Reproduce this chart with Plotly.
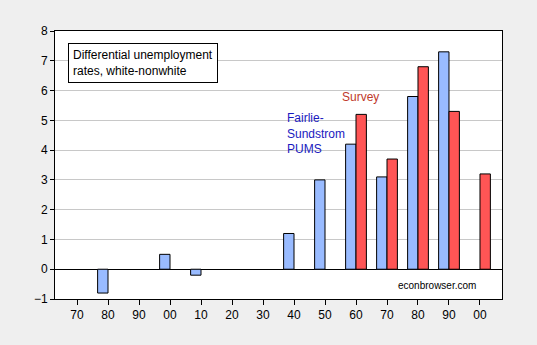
import plotly.graph_objects as go

# Decades 1870-2000, labelled by two-digit year
decade_labels = ["70", "80", "90", "00", "10", "20", "30", "40", "50", "60", "70", "80", "90", "00"]
positions = list(range(len(decade_labels)))

# Differential unemployment rates, white minus nonwhite (percentage points)
pums_values = [None, -0.8, None, 0.5, -0.2, None, None, 1.2, 3.0, 4.2, 3.1, 5.8, 7.3, None]
survey_values = [None, None, None, None, None, None, None, None, None, 5.2, 3.7, 6.8, 5.3, 3.2]

font_family = "Liberation Sans, Arial, sans-serif"

fig = go.Figure()
fig.add_trace(go.Bar(
    x=positions, y=pums_values, name="Fairlie-Sundstrom PUMS",
    marker=dict(color="#99bbff", line=dict(color="black", width=1)),
))
fig.add_trace(go.Bar(
    x=positions, y=survey_values, name="Survey",
    marker=dict(color="#ff5555", line=dict(color="black", width=1)),
))

fig.update_layout(
    width=537, height=345,
    margin=dict(l=55, r=35, t=31, b=46),
    paper_bgcolor="#efefef",
    plot_bgcolor="white",
    barmode="group",
    bargap=0.33,
    bargroupgap=0,
    showlegend=False,
    font=dict(family=font_family, size=12, color="black"),
    xaxis=dict(
        range=[-0.71, 13.71],
        tickmode="array", tickvals=positions, ticktext=decade_labels,
        showgrid=False, zeroline=False,
        showline=True, linecolor="black", linewidth=1, mirror=True,
        ticks="outside", ticklen=5, tickcolor="black",
        tickfont=dict(size=12),
    ),
    yaxis=dict(
        range=[-1, 8], dtick=1,
        showgrid=True, gridcolor="#c8c8c8", gridwidth=1,
        zeroline=True, zerolinecolor="black", zerolinewidth=1,
        showline=True, linecolor="black", linewidth=1, mirror=True,
        ticks="outside", ticklen=4, tickcolor="black",
        tickfont=dict(size=12),
    ),
    annotations=[
        dict(
            text="Differential unemployment<br>rates, white-nonwhite",
            xref="paper", yref="paper", x=0.029, y=0.955,
            xanchor="left", yanchor="top", align="left",
            showarrow=False, bgcolor="white",
            bordercolor="black", borderwidth=1, borderpad=4,
            font=dict(size=12, color="black"),
        ),
        dict(
            text="Fairlie-<br>Sundstrom<br>PUMS",
            xref="paper", yref="paper", x=(285 - 55) / 447, y=(299 - 109) / 268,
            xanchor="left", yanchor="top", align="left",
            showarrow=False,
            font=dict(size=12, color="#1a1ac0"),
        ),
        dict(
            text="Survey",
            xref="paper", yref="paper", x=(340 - 55) / 447, y=(299 - 88) / 268,
            xanchor="left", yanchor="top", align="left",
            showarrow=False,
            font=dict(size=12, color="#c0392b"),
        ),
        dict(
            text="econbrowser.com",
            xref="paper", yref="paper", x=(437 - 55) / 447, y=(299 - 285) / 268,
            xanchor="center", yanchor="middle",
            showarrow=False,
            font=dict(size=10, color="black"),
        ),
    ],
)

fig.write_html("out.html")
